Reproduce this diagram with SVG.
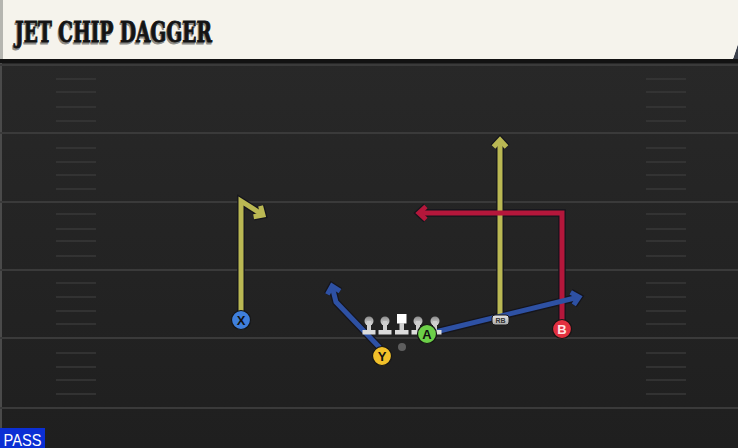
<svg xmlns="http://www.w3.org/2000/svg" width="738" height="448" viewBox="0 0 738 448">
  <style>
    .yard { stroke: #3a3a3a; stroke-width: 2; }
    .hash { stroke: #383838; stroke-width: 1.6; }
    .outline { fill: none; stroke: #15151c; stroke-width: 7.5; stroke-linejoin: miter; }
    .route { fill: none; stroke-width: 5; stroke-linejoin: miter; }
    .yellow { stroke: #bab853; }
    .red { stroke: #b4173b; }
    .blue { stroke: #2e51a4; }
    .plabel { font-family: "Liberation Sans", "DejaVu Sans", sans-serif; font-weight: bold; font-size: 13px; text-anchor: middle; }
    .pc { stroke: #151515; stroke-width: 1.2; }
    .lm { fill: url(#lmgrad); }
    .title { font-family: "DejaVu Serif", "Liberation Serif", serif; font-weight: bold; font-stretch: condensed; font-size: 28px; }
  </style>
  <defs>
    <linearGradient id="field" x1="0" y1="0" x2="0" y2="1">
      <stop offset="0" stop-color="#282828"/>
      <stop offset="1" stop-color="#1f1f1f"/>
    </linearGradient>
    <linearGradient id="lmgrad" x1="0" y1="0" x2="0" y2="1">
      <stop offset="0" stop-color="#8a8a8a"/>
      <stop offset="1" stop-color="#e2e2e2"/>
    </linearGradient>
    <linearGradient id="rbgrad" x1="0" y1="0" x2="0" y2="1">
      <stop offset="0" stop-color="#e6e6e6"/>
      <stop offset="1" stop-color="#a8a8a8"/>
    </linearGradient>
    <marker id="mo" markerUnits="userSpaceOnUse" markerWidth="20" markerHeight="20" refX="0" refY="0" orient="auto" overflow="visible">
      <path d="M-7,-6.5 L0,0 L-7,6.5" fill="none" stroke="#15151c" stroke-width="7.5"/>
    </marker>
    <marker id="my" markerUnits="userSpaceOnUse" markerWidth="20" markerHeight="20" refX="0" refY="0" orient="auto" overflow="visible">
      <path d="M-7,-6.5 L0,0 L-7,6.5" fill="none" stroke="#bab853" stroke-width="5"/>
    </marker>
    <marker id="mr" markerUnits="userSpaceOnUse" markerWidth="20" markerHeight="20" refX="0" refY="0" orient="auto" overflow="visible">
      <path d="M-7,-6.5 L0,0 L-7,6.5" fill="none" stroke="#b4173b" stroke-width="5"/>
    </marker>
    <marker id="mb" markerUnits="userSpaceOnUse" markerWidth="20" markerHeight="20" refX="0" refY="0" orient="auto" overflow="visible">
      <path d="M-7,-6.5 L0,0 L-7,6.5" fill="none" stroke="#2e51a4" stroke-width="5"/>
    </marker>
  </defs>

  <!-- field -->
  <rect x="0" y="59" width="738" height="389" fill="url(#field)"/>
  <rect x="0" y="59" width="2" height="389" fill="#4a4a4a"/>
  <g id="yardlines">
    <line class="yard" x1="0" y1="65" x2="738" y2="65"/>
    <line class="yard" x1="0" y1="133" x2="738" y2="133"/>
    <line class="yard" x1="0" y1="202" x2="738" y2="202"/>
    <line class="yard" x1="0" y1="270" x2="738" y2="270"/>
    <line class="yard" x1="0" y1="338" x2="738" y2="338"/>
    <line class="yard" x1="0" y1="408" x2="738" y2="408"/>
  </g>
  <g id="hashes">
    <path class="hash" d="M56,79H96M56,92H96M56,107H96M56,121H96M56,148H96M56,162H96M56,175H96M56,189H96M56,214H96M56,229H96M56,241H96M56,256H96M56,283H96M56,297H96M56,311H96M56,324H96M56,353H96M56,367H96M56,380H96M56,394H96"/>
    <path class="hash" d="M646,79H686M646,92H686M646,107H686M646,121H686M646,148H686M646,162H686M646,175H686M646,189H686M646,214H686M646,229H686M646,241H686M646,256H686M646,283H686M646,297H686M646,311H686M646,324H686M646,353H686M646,367H686M646,380H686M646,394H686"/>
  </g>

  <!-- header -->
  <g id="header">
    <rect x="0" y="58" width="738" height="5" fill="#121212"/>
    <polygon points="733,59 738,44 738,59" fill="#3a3f4a"/>
    <polygon points="0,0 738,0 738,44 733,59 0,59" fill="#f5f3ec"/>
    <rect x="0" y="0" width="3" height="59" fill="#b5b5b0"/>
    <text class="title" x="14" y="43.5" textLength="197" lengthAdjust="spacingAndGlyphs" fill="#8a8a86" stroke="#8a8a86" stroke-width="0.8">JET CHIP DAGGER</text>
    <text class="title" x="15" y="42" textLength="197" lengthAdjust="spacingAndGlyphs" fill="#141414" stroke="#141414" stroke-width="0.8">JET CHIP DAGGER</text>
  </g>

  <!-- connectors -->
  <g id="connectors">
    <path class="outline" marker-end="url(#mo)" d="M241,312 L241,201 L263,215"/>
    <path class="outline" marker-end="url(#mo)" d="M500,318 L500,140"/>
    <path class="outline" marker-end="url(#mo)" d="M562,320 L562,213 L419,213"/>
    <path class="outline" marker-end="url(#mo)" d="M382,350 L336,302 L332,286"/>
    <path class="outline" marker-end="url(#mo)" d="M427,334 L579,297"/>
    <path class="route yellow" marker-end="url(#my)" d="M241,312 L241,201 L263,215"/>
    <path class="route yellow" marker-end="url(#my)" d="M500,318 L500,140"/>
    <path class="route red" marker-end="url(#mr)" d="M562,320 L562,213 L419,213"/>
    <path class="route blue" marker-end="url(#mb)" d="M382,350 L336,302 L332,286"/>
    <path class="route blue" marker-end="url(#mb)" d="M427,334 L579,297"/>
  </g>

  <!-- offensive line -->
  <g id="LT">
    <circle class="lm" cx="369" cy="321" r="4.5"/>
    <rect x="367" y="321" width="4" height="10" fill="#cfcfcf"/>
    <rect x="362.5" y="330" width="13" height="4.5" fill="#dcdcdc"/>
  </g>
  <g id="LG">
    <circle class="lm" cx="385" cy="321" r="4.5"/>
    <rect x="383" y="321" width="4" height="10" fill="#cfcfcf"/>
    <rect x="378.5" y="330" width="13" height="4.5" fill="#dcdcdc"/>
  </g>
  <g id="C">
    <rect x="397" y="314" width="9.5" height="9.5" fill="#ffffff"/>
    <rect x="399.5" y="323" width="4.5" height="8" fill="#cfcfcf"/>
    <rect x="395" y="330" width="13.5" height="4.5" fill="#dcdcdc"/>
  </g>
  <g id="RG">
    <circle class="lm" cx="418" cy="321" r="4.5"/>
    <rect x="416" y="321" width="4" height="10" fill="#cfcfcf"/>
    <rect x="411.5" y="330" width="13" height="4.5" fill="#dcdcdc"/>
  </g>
  <g id="RT">
    <circle class="lm" cx="435" cy="321" r="4.5"/>
    <rect x="433" y="321" width="4" height="10" fill="#cfcfcf"/>
    <rect x="428.5" y="330" width="13" height="4.5" fill="#dcdcdc"/>
  </g>
  <g id="QB">
    <circle cx="402" cy="347" r="4" fill="#5e5e5e"/>
  </g>

  <!-- skill players -->
  <g id="X">
    <circle class="pc" cx="241" cy="320" r="9.5" fill="#3f7fdc"/>
    <text class="plabel" x="241" y="324.7" fill="#111">X</text>
  </g>
  <g id="Y">
    <circle class="pc" cx="382" cy="356" r="9.5" fill="#f1c02a"/>
    <text class="plabel" x="382" y="360.7" fill="#111">Y</text>
  </g>
  <g id="A">
    <circle class="pc" cx="427" cy="334" r="9.5" fill="#6ccf48"/>
    <text class="plabel" x="427" y="338.7" fill="#111">A</text>
  </g>
  <g id="RB">
    <rect x="492" y="315" width="17" height="10" rx="3" fill="url(#rbgrad)" stroke="#1a1a1a" stroke-width="1"/>
    <text x="500.5" y="323" font-family="'Liberation Sans', sans-serif" font-weight="bold" font-size="7" text-anchor="middle" fill="#333">RB</text>
  </g>
  <g id="B">
    <circle class="pc" cx="562" cy="329" r="9.5" fill="#e2303f"/>
    <text class="plabel" x="562" y="333.7" fill="#ffe4e4">B</text>
  </g>

  <!-- play type -->
  <g id="pass">
    <rect x="0" y="428" width="45" height="20" fill="#0b2fd4"/>
    <text x="3.5" y="445.5" font-family="'Liberation Sans', sans-serif" font-size="17" textLength="38" lengthAdjust="spacingAndGlyphs" fill="#ffffff">PASS</text>
  </g>
</svg>
